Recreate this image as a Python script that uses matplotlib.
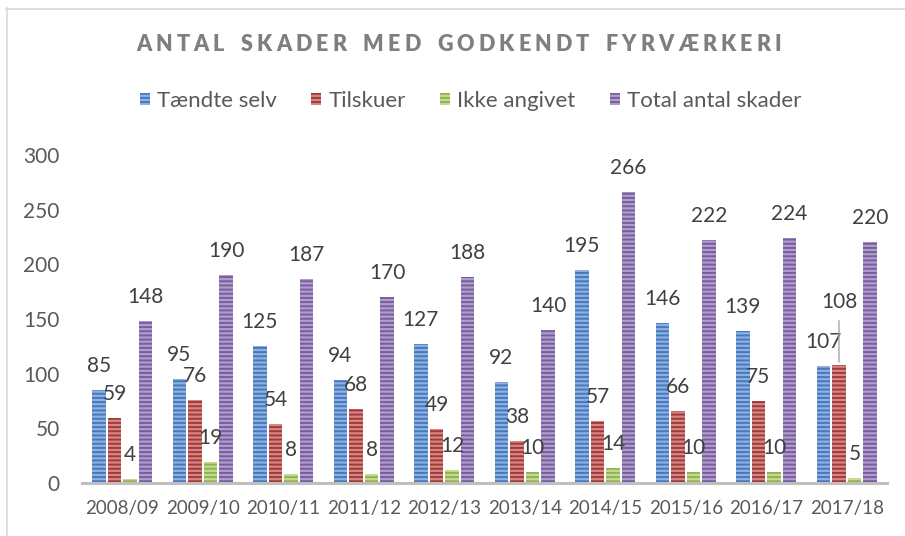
import numpy as np
import matplotlib
matplotlib.use("Agg")
import matplotlib.pyplot as plt
from matplotlib.patches import Patch
from matplotlib.lines import Line2D

# data
seasons = ["2008/09", "2009/10", "2010/11", "2011/12", "2012/13",
           "2013/14", "2014/15", "2015/16", "2016/17", "2017/18"]
taendte_selv = [85, 95, 125, 94, 127, 92, 195, 146, 139, 107]
tilskuer = [59, 76, 54, 68, 49, 38, 57, 66, 75, 108]
ikke_angivet = [4, 19, 8, 8, 12, 10, 14, 10, 10, 5]
total = [148, 190, 187, 170, 188, 140, 266, 222, 224, 220]
series_names = ["Tændte selv", "Tilskuer", "Ikke angivet", "Total antal skader"]
title = "ANTAL SKADER MED GODKENDT FYRVÆRKERI"

# (light fill, dark stripe)
colors = [("#8fb0e2", "#4579bb"), ("#d68785", "#a03937"),
          ("#c4db90", "#90b34e"), ("#b09dca", "#775c9f")]

plt.rcParams['font.family'] = ['Lato', 'DejaVu Sans']
plt.rcParams['hatch.linewidth'] = 1.4

W, H = 905, 536
fig = plt.figure(figsize=(W / 100, H / 100), dpi=100)
ax = fig.add_axes([82 / W, (H - 483) / H, (887 - 82) / W, (483 - 155) / H])

x = np.arange(len(seasons))
step = 0.193
bw = 0.165
all_series = [taendte_selv, tilskuer, ikke_angivet, total]
for i, vals in enumerate(all_series):
    light, dark = colors[i]
    xs = x + (i - 1.5) * step
    ax.bar(xs, vals, width=bw, color=light, edgecolor=dark, linewidth=0,
           hatch='----', zorder=2)
    for j, (xx, v) in enumerate(zip(xs, vals)):
        if i == 1 and j == 9:
            # label pushed up with leader line
            ax.annotate(str(v), (xx, v), xytext=(0, 57), textcoords='offset pixels',
                        ha='center', va='baseline', fontsize=15, color='#404040',
                        annotation_clip=False)
            ax.annotate("", (xx, v), xytext=(xx, v + 47 / 1.093),
                        arrowprops=dict(arrowstyle='-', color='#a6a6a6', lw=1),
                        annotation_clip=False)
        else:
            ax.annotate(str(v), (xx, v), xytext=(0, 18), textcoords='offset pixels',
                        ha='center', va='baseline', fontsize=15, color='#404040',
                        annotation_clip=False)

ax.set_xlim(-0.5, len(seasons) - 0.5)
ax.set_ylim(0, 300)
ax.set_yticks(range(0, 301, 50))
ax.set_xticks(x)
ax.set_xticklabels(seasons)
ax.tick_params(axis='y', length=0, pad=16, labelsize=15, labelcolor='#595959')
ax.tick_params(axis='x', length=0, pad=12, labelsize=13.5, labelcolor='#595959')
for s in ['top', 'right', 'left']:
    ax.spines[s].set_visible(False)
ax.spines['bottom'].set_color('#bfbfbf')
ax.spines['bottom'].set_linewidth(2.2)
ax.spines['bottom'].set_zorder(3)

# letter-spaced title
renderer = fig.canvas.get_renderer()
tsize = 15.5
widths = []
for ch in title:
    if ch == ' ':
        t = fig.text(0, 0, 'M', fontsize=tsize, fontweight='heavy')
        w = t.get_window_extent(renderer).width * 0.4
    else:
        t = fig.text(0, 0, ch, fontsize=tsize, fontweight='heavy')
        w = t.get_window_extent(renderer).width
    t.remove()
    widths.append(w)
x0, x1 = 136, 781
spacing = ((x1 - x0) - sum(widths)) / (len(title) - 1)
cx = x0
for ch, w in zip(title, widths):
    fig.text(cx / W, 1 - 51 / H, ch, fontsize=tsize, fontweight='heavy',
             color='#7f7f7f', ha='left', va='baseline')
    cx += w + spacing

# legend
handles = [Patch(facecolor=c[0], edgecolor=c[1], linewidth=0, hatch='----')
           for c in colors]
fig.legend(handles, series_names, loc='center left',
           bbox_to_anchor=(140 / W, 1 - 101 / H), borderaxespad=0, borderpad=0,
           ncol=4, frameon=False, fontsize=16, labelcolor='#595959',
           handlelength=0.45, handleheight=0.45, handletextpad=0.32,
           columnspacing=1.55)

# chart border (only top and left visible)
fig.add_artist(Line2D([6.5 / W, 6.5 / W], [0, 1 - 8 / H], color='#d9d9d9', lw=1.2))
fig.add_artist(Line2D([6 / W, 1], [1 - 8.5 / H, 1 - 8.5 / H], color='#d9d9d9', lw=1.2))

fig.savefig("out.png", dpi=100)
